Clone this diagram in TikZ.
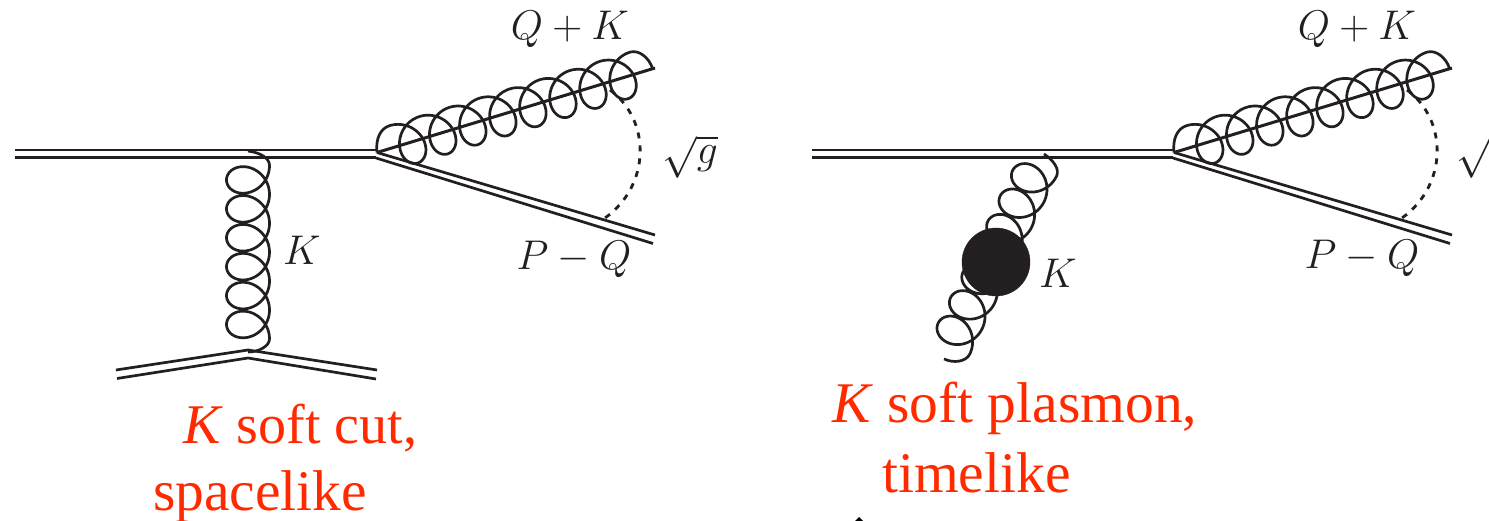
\documentclass[tikz,border=0pt]{standalone}
\usepackage{fix-cm}
\usepackage{fontspec}
\setmainfont{Liberation Serif}
\definecolor{ink}{HTML}{231F20}
\definecolor{redtxt}{HTML}{FF2A00}
\newcommand{\mathlab}[1]{\fontsize{41.5}{48}\selectfont$#1$}
% \gluon{start}{angle}{u0}{c}{b}{R}{nloops}{L}
\newcommand{\gluon}[8]{%
  \pgfmathsetmacro{\uend}{#3+2*pi*#7*#4}%
  \pgfmathsetmacro{\degend}{360*#7}%
  \pgfmathsetmacro{\nsamp}{int(70*#7)}%
  \draw[gluonline,shift={(#1)},rotate=#2]
    (0,0) .. controls ({0.12*#3},{-0.6*#6}) and ({0.5*#3},{-#6}) .. (#3,{-#6})
    -- plot[domain=0:\degend,samples=\nsamp] ({#3+#4*\x*0.0174533+#5*sin(\x)},{-#6*cos(\x)})
    .. controls ({\uend+0.55*(#8-\uend)},{-#6}) and (#8,{-0.5*#6}) .. (#8,0);
}
\tikzset{
  line1/.style={draw=ink,line width=3pt},
  line2/.style={draw=ink,line width=2.7pt},
  gluonline/.style={draw=ink,line width=2.7pt,line join=round},
  softdash/.style={draw=ink,line width=2.8pt,dash pattern=on 6pt off 7pt},
  mlabel/.style={text=ink,inner sep=0pt},
  redlabel/.style={text=redtxt,inner sep=0pt,anchor=base west,font=\fontsize{57.5}{68}\selectfont},
  blob/.style={circle,fill=ink,draw=ink,inner sep=0pt,minimum size=68pt},
}
\begin{document}
\begin{tikzpicture}[x=1pt,y=-1pt]
\useasboundingbox (0,0) rectangle (1489,521);
\clip (0,0) rectangle (1489,521);
% ---- left diagram
\coordinate (LA1) at (15,150); \coordinate (LA2) at (378,150);
\coordinate (LB1) at (15,158); \coordinate (LB2) at (376,158);
\coordinate (V) at (377,152.5);
\coordinate (GE) at (655,68);
\coordinate (PU) at (655,235);
\coordinate (PL) at (653,243.5);
\draw[line2] (LA1) -- (LA2);
\draw[line1] (LB1) -- (LB2);
\draw[line1] (V) -- (GE);
\draw[line2] (V) -- (PU);
\draw[line2] (LB2) -- (PL);
\gluon{V}{17}{20}{5}{20}{22}{8}{288}
\coordinate (DS) at (610,90); \coordinate (DE) at (605,218);
\draw[softdash] (DS) .. controls (651,120) and (651,185) .. (DE);
\coordinate (GK1) at (248,151);
\gluon{GK1}{-90}{14.5}{4.6}{20}{21.5}{6}{201}
\coordinate (LLv) at (248,358); \coordinate (LUv) at (248,350);
\coordinate (LLa) at (116,370); \coordinate (LLb) at (117,378.5);
\coordinate (LRa) at (377,370); \coordinate (LRb) at (376,379);
\draw[line2] (LLa) -- (LUv);
\draw[line2] (LLb) -- (LLv) -- (LRb);
\draw[line2] (LUv) -- (LRa);
\node[mlabel] (qk1) at (570,29) {\mathlab{Q+K}};
\node[mlabel] (pq1) at (574,259) {\mathlab{P-Q}};
\node[mlabel] (sq1) at (690,157) {\mathlab{\sqrt{g}}};
\node[mlabel] (k1) at (302,250) {\mathlab{K}};
\node[redlabel,font=\fontsize{56}{68}\selectfont] (t1) at (183,443) {\textit{K} soft cut,};
\node[redlabel] (t2) at (153,510) {spacelike};
% ---- right diagram
\coordinate (RA1) at (812,150); \coordinate (RA2) at (1175,150);
\coordinate (RB1) at (812,158); \coordinate (RB2) at (1173,158);
\coordinate (W) at (1174,152.5);
\coordinate (HE) at (1452,68);
\coordinate (RU) at (1452,235);
\coordinate (RL) at (1450,243.5);
\draw[line2] (RA1) -- (RA2);
\draw[line1] (RB1) -- (RB2);
\draw[line1] (W) -- (HE);
\draw[line2] (W) -- (RU);
\draw[line2] (RB2) -- (RL);
\gluon{W}{17}{20}{5}{20}{22}{8}{288}
\coordinate (ES) at (1407,90); \coordinate (EE) at (1402,218);
\draw[softdash] (ES) .. controls (1448,120) and (1448,185) .. (EE);
\coordinate (GK2) at (1044,154);
\gluon{GK2}{-116}{14.5}{4.5}{20}{21}{7}{228}
\node[blob] (b) at (996,262) {};
\node[mlabel] (qk2) at (1357,29) {\mathlab{Q+K}};
\node[mlabel] (pq2) at (1362,258) {\mathlab{P-Q}};
\node[mlabel] (sq2) at (1484,157) {\mathlab{\sqrt{g}}};
\node[mlabel] (k2) at (1058,273) {\mathlab{K}};
\node[redlabel] (t3) at (832,422) {\textit{K} soft plasmon,};
\node[redlabel] (t4) at (882,492) {timelike};
\fill[black] (859,517) -- (855,521) -- (863,521) -- cycle;
\end{tikzpicture}
\end{document}
